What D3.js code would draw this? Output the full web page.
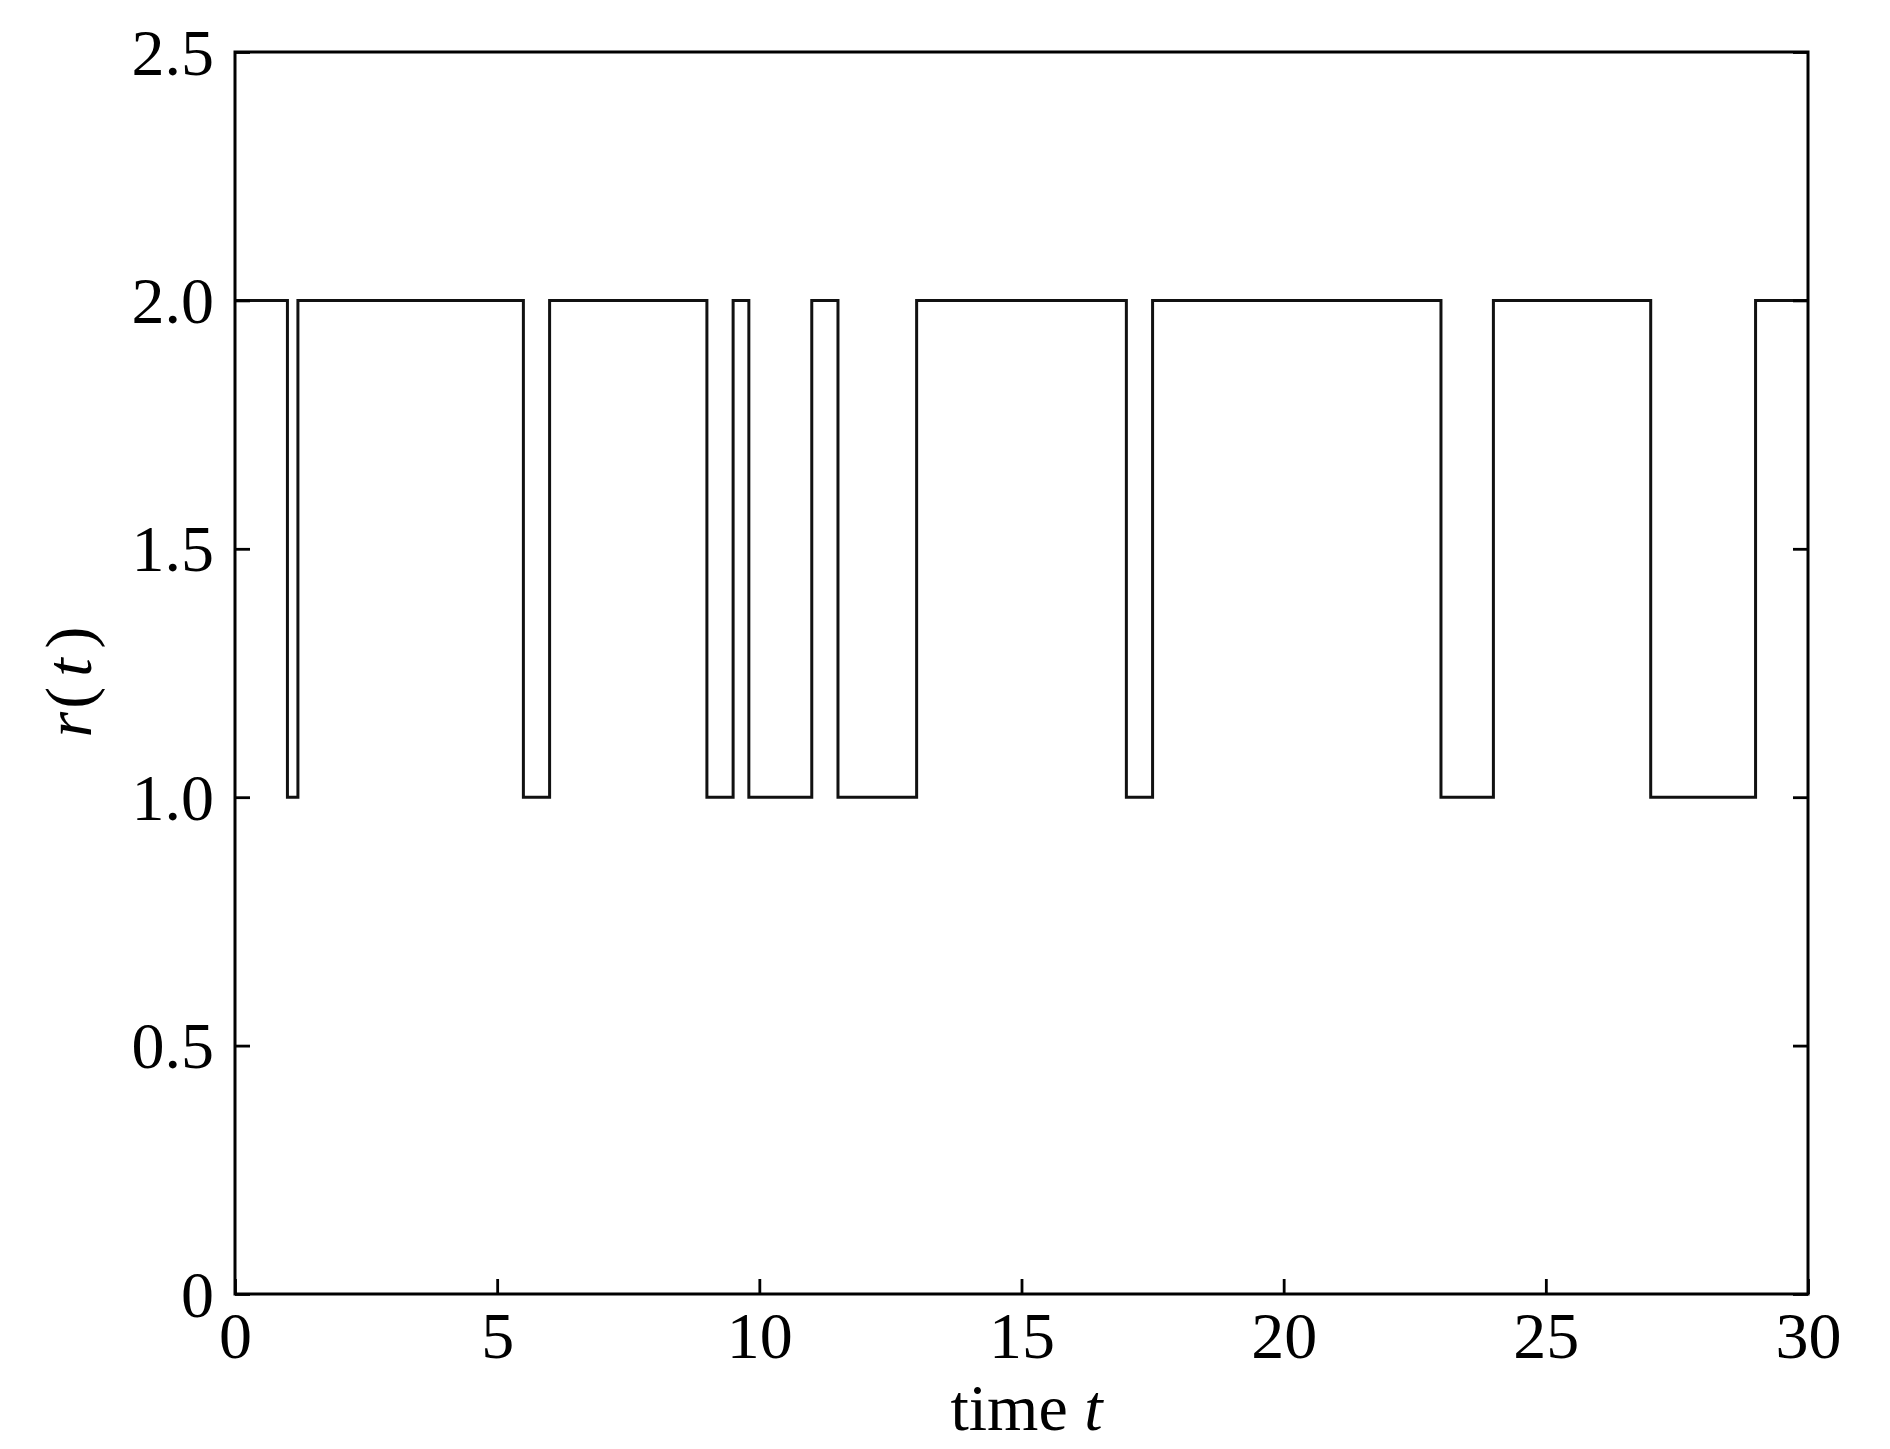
<!DOCTYPE html>
<html>
<head>
<meta charset="utf-8">
<script src="https://cdn.jsdelivr.net/npm/d3@7"></script>
<style>
  html, body { margin: 0; padding: 0; background: #fff; }
  svg { display: block; }
  text { font-family: "Liberation Serif", "Times New Roman", serif; fill: #000; }
</style>
</head>
<body>
<svg id="chart" width="1890" height="1449"></svg>
<script>
// ---- data ----
const switchTimes = [0, 1.0, 1.2, 5.5, 6.0, 9.0, 9.5, 9.8, 11.0, 11.5, 13.0, 17.0, 17.5, 23.0, 24.0, 27.0, 29.0, 30];
const rValues     = [2, 1,   2,   1,   2,   1,   2,   1,   2,    1,    2,    1,    2,    1,    2,    1,    2,    2];
const xTicks = [0, 5, 10, 15, 20, 25, 30];
const xTickLabels = ["0", "5", "10", "15", "20", "25", "30"];
const yTicks = [0, 0.5, 1.0, 1.5, 2.0, 2.5];
const yTickLabels = ["0", "0.5", "1.0", "1.5", "2.0", "2.5"];

(function () {
  // ---- layout ----
  const L = 235, R = 1808, T = 52, B = 1294;
  const svg = d3.select("#chart");
  const x = d3.scaleLinear().domain([0, 30]).range([L, R]);
  const y = d3.scaleLinear().domain([0, 2.5]).range([B, T]);
  const fs = 66, tickLen = 15;

  const series = switchTimes.map((t, i) => ({t, r: rValues[i]}));

  // step line
  const line = d3.line().x(d => x(d.t)).y(d => y(d.r)).curve(d3.curveStepAfter);
  svg.append("path")
    .datum(series)
    .attr("d", line)
    .attr("fill", "none")
    .attr("stroke", "#111")
    .attr("stroke-width", 3)
    .attr("stroke-linejoin", "miter");

  // axes with inward ticks
  const axG = svg.append("g");
  const axBottom = axG.append("g").attr("transform", `translate(0,${B})`)
    .call(d3.axisBottom(x).tickValues(xTicks).tickSize(-tickLen).tickFormat((d, i) => xTickLabels[i]).tickPadding(0));
  const axLeft = axG.append("g").attr("transform", `translate(${L},0)`)
    .call(d3.axisLeft(y).tickValues(yTicks).tickSize(-tickLen).tickFormat((d, i) => yTickLabels[i]).tickPadding(0));
  axG.append("g").attr("transform", `translate(${R},0)`)
    .call(d3.axisRight(y).tickValues(yTicks).tickSize(-tickLen).tickFormat(""));

  axG.selectAll(".domain").remove();
  axG.selectAll(".tick line").attr("stroke", "#000").attr("stroke-width", 2.8);

  axBottom.selectAll(".tick text")
    .attr("font-size", fs)
    .attr("font-family", "Liberation Serif")
    .attr("fill", "#000")
    .attr("y", 64).attr("dy", 0)
    .attr("text-anchor", "middle");
  axLeft.selectAll(".tick text")
    .attr("font-size", fs)
    .attr("font-family", "Liberation Serif")
    .attr("fill", "#000")
    .attr("x", -21).attr("dy", 22)
    .attr("text-anchor", "end");

  // frame
  svg.append("rect")
    .attr("x", L).attr("y", T)
    .attr("width", R - L).attr("height", B - T)
    .attr("fill", "none").attr("stroke", "#000").attr("stroke-width", 3);

  // x label
  const xl = svg.append("text")
    .attr("x", (L + R) / 2 + 5).attr("y", 1430)
    .attr("text-anchor", "middle")
    .attr("font-size", fs);
  xl.append("tspan").text("time ");
  xl.append("tspan").attr("font-style", "italic").text("t");

  // y label
  const yl = svg.append("text")
    .attr("transform", `translate(91,682) rotate(-90)`)
    .attr("text-anchor", "middle")
    .attr("font-size", fs);
  yl.append("tspan").attr("font-style", "italic").text("r");
  yl.append("tspan").attr("dx", 3).text("(");
  yl.append("tspan").attr("dx", 10).attr("font-style", "italic").text("t");
  yl.append("tspan").attr("dx", 10).text(")");
})();
</script>
</body>
</html>
